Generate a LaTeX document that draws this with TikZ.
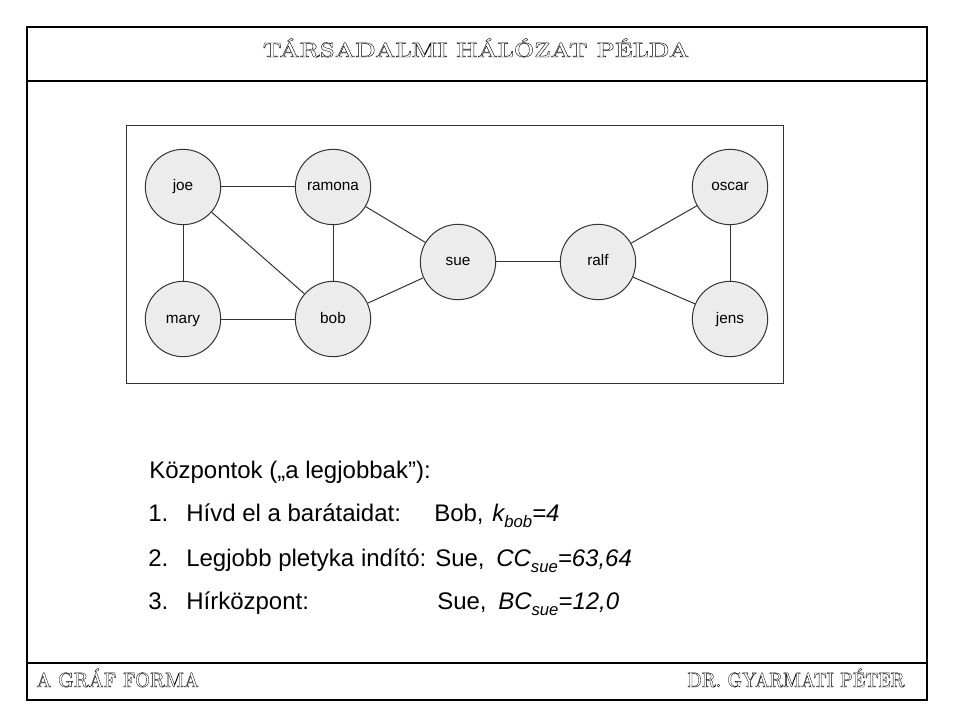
\documentclass[tikz,border=0pt]{standalone}
\usepackage{fontspec}
\newfontfamily\arialfont{Liberation Sans}
\newcommand\outl[1]{\special{pdf:literal direct 1 Tr 0.28 w}#1\special{pdf:literal direct 0 Tr}}
\newcommand\subs[1]{\raisebox{-4.5pt}{\fontsize{12.5}{14}\selectfont\itshape #1}}
\definecolor{nodefill}{HTML}{ECECEC}
\definecolor{edgecol}{HTML}{333333}
\begin{document}
\begin{tikzpicture}[x=0.75pt,y=-0.75pt,
  person/.style={circle,draw=edgecol,fill=nodefill,line width=0.75pt,minimum size=56.5pt,inner sep=0pt,text height=8pt,text depth=2pt,font=\arialfont\fontsize{11.5}{13}\selectfont},
  link/.style={draw=edgecol,line width=0.75pt},
  frameline/.style={line width=1.3pt},
  headtext/.style={inner sep=0pt,font=\bfseries\fontsize{15.5}{18}\selectfont},
  body/.style={inner sep=0pt,anchor=base west,font=\arialfont\fontsize{18}{22}\selectfont}]
\useasboundingbox (0,0) rectangle (960,720);
\fill[white] (0,0) rectangle (960,720);
% frame
\draw[frameline] (27,27) rectangle (927,700);
\draw[frameline] (27,81) -- (927,81);
\draw[frameline] (27,663) -- (927,663);
% header and footer
\node[headtext,anchor=base] (title) at (476,57) {\scalebox{1.16}[1]{\outl{TÁRSADALMI HÁLÓZAT PÉLDA}}};
\node[headtext,anchor=base west] (footl) at (36,687) {\scalebox{0.86}[1]{\outl{A GRÁF FORMA}}};
\node[headtext,anchor=base east] (footr) at (905,687) {\scalebox{0.81}[1]{\outl{DR. GYARMATI PÉTER}}};
% graph box
\draw[draw=edgecol,line width=0.75pt] (126,126) rectangle (783,383);
% nodes
\node[person] (joe) at (183,187) {joe};
\node[person] (ramona) at (333,187) {ramona};
\node[person] (sue) at (458,262) {sue};
\node[person] (ralf) at (598,262) {ralf};
\node[person] (oscar) at (730,187) {oscar};
\node[person] (mary) at (183,319) {mary};
\node[person] (bob) at (333,319) {bob};
\node[person] (jens) at (730,319) {jens};
% edges
\draw[link] (joe) -- (ramona);
\draw[link] (joe) -- (mary);
\draw[link] (joe) -- (bob);
\draw[link] (ramona) -- (bob);
\draw[link] (ramona) -- (sue);
\draw[link] (mary) -- (bob);
\draw[link] (bob) -- (sue);
\draw[link] (sue) -- (ralf);
\draw[link] (ralf) -- (oscar);
\draw[link] (ralf) -- (jens);
\draw[link] (oscar) -- (jens);
% text
\node[body] (head) at (149,478) {Központok („a legjobbak”):};
\node[body] (n1) at (148,521) {1.};
\node[body] (t1) at (186,521) {Hívd el a barátaidat:};
\node[body] (b1) at (434,521) {Bob,};
\node[body] (f1) at (492,521) {\itshape k\subs{bob}=4};
\node[body] (n2) at (148,566) {2.};
\node[body] (t2) at (186,566) {Legjobb pletyka indító: Sue,};
\node[body] (f2) at (496,566) {\itshape CC\subs{sue}=63,64};
\node[body] (n3) at (148,609) {3.};
\node[body] (t3) at (186,609) {Hírközpont:};
\node[body] (b3) at (437,609) {Sue,};
\node[body] (f3) at (498,609) {\itshape BC\subs{sue}=12,0};
\end{tikzpicture}
\end{document}
